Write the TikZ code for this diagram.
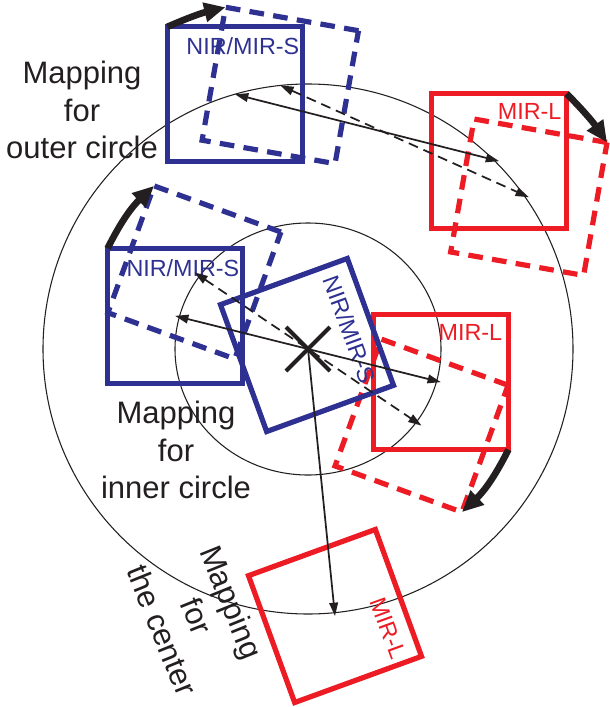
\documentclass[tikz,border=0pt]{standalone}
\usepackage{fontspec}
\setmainfont{Liberation Sans}
\definecolor{nirblue}{HTML}{2E3192}
\definecolor{mirred}{HTML}{ED1C24}
\definecolor{ink}{HTML}{231F20}
\usetikzlibrary{arrows.meta, calc, shapes.misc}

\begin{document}
\begin{tikzpicture}[x=0.75pt, y=-0.75pt,
  square/.style={rectangle, draw, line width=3.9pt, minimum size=101.25pt,
                 inner sep=0pt, outer sep=0pt},
  nir/.style={square, draw=nirblue},
  mir/.style={square, draw=mirred},
  moved/.style={dash pattern=on 11pt off 7pt},
  tag/.style={font=\fontsize{17.5}{21}\selectfont, inner sep=0pt},
  caption/.style={font=\fontsize{23.25}{28}\selectfont, text=ink, align=center,
                  inner sep=0pt},
  >={Triangle[length=10pt, width=6.5pt]},
  map/.style={<->, line width=1.3pt, draw=ink},
  mapdash/.style={map, dash pattern=on 7.5pt off 4.5pt},
  turn/.style={-{Triangle[length=16pt, width=14pt]}, line width=5pt, draw=ink},
]
  \useasboundingbox (0,0) rectangle (610,707);

  % circles
  \coordinate (ctr) at (308,349);
  \draw[ink, line width=0.8pt] (ctr) circle[radius=265];
  \draw[ink, line width=0.8pt] (ctr) ellipse[x radius=133, y radius=126];

  % outer circle
  \node[nir] (nirout) at ($(ctr)+(-106:265)$) {};
  \node[nir, moved, rotate=-10] (nirout2) at ($(ctr)+(-96:265)$) {};
  \node[mir] (mirout) at ($(ctr)+(-44.5:268)$) {};
  \node[mir, moved, rotate=-10] (mirout2) at ($(ctr)+(-34.5:268)$) {};

  % inner circle
  \node[nir] (nirin) at ($(ctr)+(-166:137)$) {};
  \node[nir, moved, rotate=-20] (nirin2) at ($(ctr)+(-146:137)$) {};
  \node[mir] (mirin) at ($(ctr)+(14:137)$) {};
  \node[mir, moved, rotate=-20] (mirin2) at ($(ctr)+(34:137)$) {};

  % center
  \node[nir, rotate=20] (nirmid) at (307,345) {};
  \node[mir, rotate=20] (mirend) at (335,616) {};
  \node[cross out, draw=ink, line width=3pt, minimum size=30pt] (mark) at (ctr) {};

  % labels
  \node[tag, text=nirblue, anchor=north east] at ([shift={(-3,11)}]nirout.north east) {NIR/MIR-S};
  \node[tag, text=nirblue, anchor=north east] at ([shift={(-3,11)}]nirin.north east) {NIR/MIR-S};
  \node[tag, text=mirred, anchor=north east] at ([shift={(-5,10)}]mirout.north east) {MIR-L};
  \node[tag, text=mirred, anchor=north east] at ([shift={(-6,10)}]mirin.north east) {MIR-L};
  \node[tag, text=nirblue, rotate=-70, anchor=north, inner sep=10pt] at (nirmid.east) {NIR/MIR-S};
  \node[tag, text=mirred, rotate=-70, anchor=north, inner sep=10pt]
    at ($(mirend.north east)!0.72!(mirend.south east)$) {MIR-L};

  % mappings
  \draw[map] (nirout.center) -- (mirout.center);
  \draw[mapdash] (nirout2.center) -- (mirout2.center);
  \draw[map] (nirin.center) -- (mirin.center);
  \draw[mapdash] (nirin2.center) -- (mirin2.center);
  \draw[map, ->] (mark.center) -- (mirend.center);

  % turns
  \draw[turn] (nirout.north west) to[bend left=5] (nirout2.north west);
  \draw[turn] (mirout.north east) to[bend left=5] (mirout2.north east);
  \draw[turn] (nirin.north west) to[bend left=10] (nirin2.north west);
  \draw[turn] (mirin.south east) to[bend left=10] (mirin2.south east);

  % captions
  \node[caption] (outcap) at (82,110) {Mapping\\for\\outer circle};
  \node[caption] (incap) at (176,450) {Mapping\\for\\inner circle};
  \node[caption, rotate=-68] (midcap) at (197,616) {Mapping\\for\\the center};
\end{tikzpicture}
\end{document}
